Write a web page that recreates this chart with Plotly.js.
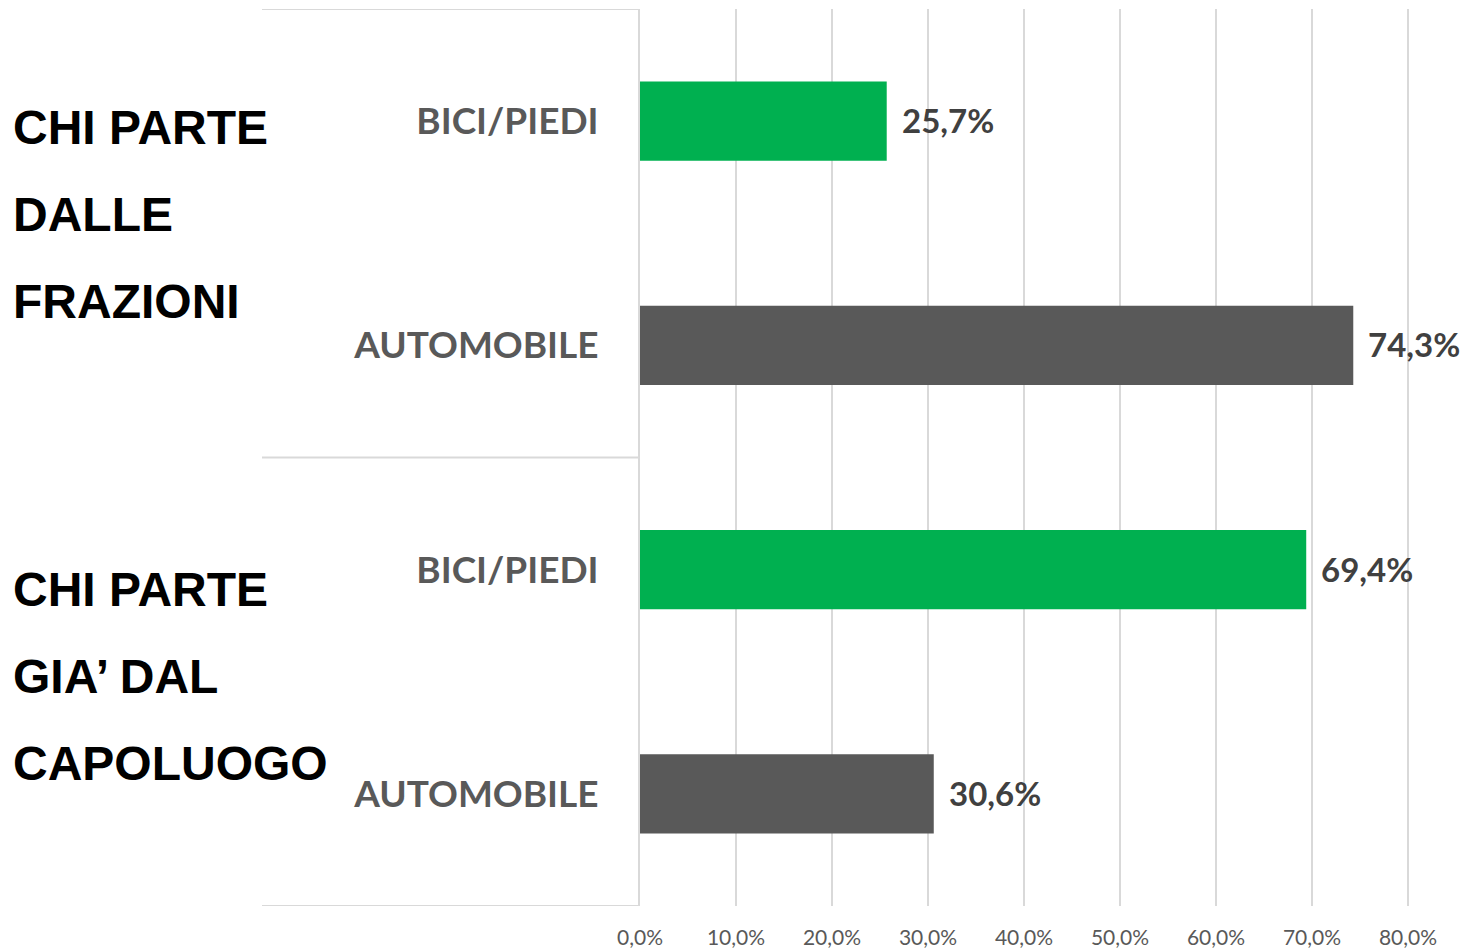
<!DOCTYPE html>
<html>
<head>
<meta charset="utf-8">
<script src="https://cdn.plot.ly/plotly-3.0.1.min.js"></script>
<style>
  html, body { margin: 0; padding: 0; background: #ffffff; }
  #chart { width: 1463px; height: 948px; }
</style>
</head>
<body>
<div id="chart"></div>
<script>
// ---- data ----
const categories = ["BICI/PIEDI", "AUTOMOBILE", "BICI/PIEDI", "AUTOMOBILE"];
const values = [25.7, 74.3, 69.4, 30.6];
const barColors = ["#00B050", "#595959", "#00B050", "#595959"];
const groupLines = [
  ["CHI PARTE", "DALLE", "FRAZIONI"],
  ["CHI PARTE", "GIA\u2019 DAL", "CAPOLUOGO"]
];
const groupFirstLineY = [0.027, 2.09];   // category-axis units
const groupLineStep = 0.388;
const tickVals = [0, 10, 20, 30, 40, 50, 60, 70, 80];
const tickLabels = ["0,0%", "10,0%", "20,0%", "30,0%", "40,0%", "50,0%", "60,0%", "70,0%", "80,0%"];

const positions = categories.map((_, i) => i);
const grid = "#D9D9D9";

const trace = {
  type: "bar",
  orientation: "h",
  x: values,
  y: positions,
  width: 0.353,
  marker: { color: barColors, line: { width: 0 } },
  hoverinfo: "skip",
  showlegend: false
};

const annotations = [];
values.forEach((v, i) => {
  annotations.push({
    x: v, y: positions[i], xref: "x", yref: "y",
    text: v.toFixed(1).replace(".", ",") + "%",
    showarrow: false, xanchor: "left", yanchor: "middle",
    xshift: 13, yshift: 1,
    font: { family: "Lato, 'Open Sans', sans-serif", size: 33, color: "#404040", weight: 700 }
  });
});
groupLines.forEach((lines, g) => {
  lines.forEach((t, k) => {
    annotations.push({
      x: -0.7643, xref: "paper", xanchor: "left",
      y: groupFirstLineY[g] + k * groupLineStep, yref: "y", yanchor: "middle",
      text: t, showarrow: false,
      font: { family: "'Liberation Sans', Arial, sans-serif", size: 48, color: "#000000", weight: 700 }
    });
  });
});

const shapes = [-0.5, 1.5, 3.5].map(yv => ({
  type: "line", xref: "paper", yref: "y",
  x0: -0.4593, x1: 0, y0: yv, y1: yv,
  line: { color: grid, width: 2 }, layer: "below"
}));

const layout = {
  width: 1463, height: 948,
  margin: { l: 640, r: 0, t: 9, b: 42, pad: 0 },
  paper_bgcolor: "#ffffff", plot_bgcolor: "#ffffff",
  separators: ",.",
  xaxis: {
    range: [0, 85.73],
    tickvals: tickVals,
    ticktext: tickLabels,
    showgrid: true, gridcolor: grid, gridwidth: 2,
    zeroline: false, showline: false, ticks: "",
    ticklabelstandoff: 17,
    tickfont: { family: "Lato, 'Open Sans', sans-serif", size: 21, color: "#595959" },
    fixedrange: true
  },
  yaxis: {
    range: [3.5, -0.5],
    tickvals: positions, ticktext: categories,
    showgrid: false, zeroline: false,
    showline: true, linecolor: grid, linewidth: 2,
    ticks: "", ticklabelstandoff: 32,
    tickfont: { family: "Lato, 'Open Sans', sans-serif", size: 37, color: "#595959", weight: 700 },
    fixedrange: true
  },
  annotations: annotations,
  shapes: shapes,
  showlegend: false
};

Plotly.newPlot("chart", [trace], layout, { displayModeBar: false, staticPlot: true });
</script>
</body>
</html>
